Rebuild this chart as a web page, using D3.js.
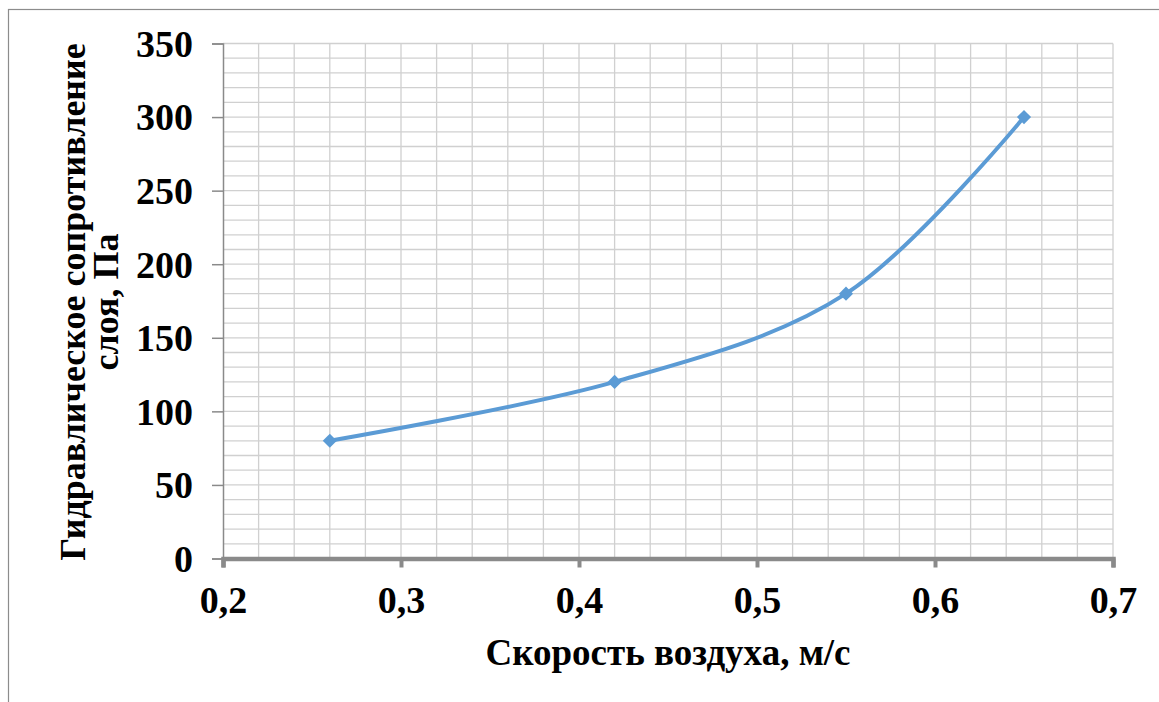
<!DOCTYPE html>
<html>
<head>
<meta charset="utf-8">
<script src="https://cdn.jsdelivr.net/npm/d3@7"></script>
<style>
  html, body { margin: 0; padding: 0; background: #fff; }
  svg { display: block; }
  text { font-family: "Liberation Serif", serif; font-weight: bold; fill: #000; }
</style>
</head>
<body>
<svg id="chart" width="1159" height="702"></svg>
<script>
// Air velocity (m/s) and bed hydraulic resistance (Pa)
const velocity = [0.26, 0.42, 0.55, 0.65];
const resistance = [80, 120, 180, 300];
const xTicks = [0.2, 0.3, 0.4, 0.5, 0.6, 0.7];
const yTicks = [0, 50, 100, 150, 200, 250, 300, 350];
const xTitle = "Скорость воздуха, м/с";
const yTitleLines = ["Гидравлическое сопротивление", "слоя, Па"];

(function draw() {
  const svg = d3.select("#chart");
  const W = 1159, H = 702;
  const serif = "'Liberation Serif', serif";

  // outer frame of the chart
  svg.append("rect")
    .attr("x", 8.5).attr("y", 9.5)
    .attr("width", W + 10).attr("height", H + 10)
    .attr("fill", "none").attr("stroke", "#8c8c8c").attr("stroke-width", 1.2);

  const pLeft = 223, pRight = 1113, pTop = 43.5, pBottom = 558.5;
  const x = d3.scaleLinear().domain([0.2, 0.7]).range([pLeft, pRight]);
  const y = d3.scaleLinear().domain([0, 350]).range([pBottom, pTop]);

  const fmt = d => d3.format(".1f")(d).replace(".", ",");

  // minor + major gridlines
  const grid = svg.append("g").attr("stroke", "#d0d0d0").attr("stroke-width", 1.3);
  d3.range(11, 36).map(k => k * 0.02).forEach(v => {
    grid.append("line").attr("x1", x(v)).attr("x2", x(v)).attr("y1", pTop).attr("y2", pBottom);
  });
  d3.range(10, 351, 10).forEach(v => {
    grid.append("line").attr("x1", pLeft).attr("x2", pRight).attr("y1", y(v)).attr("y2", y(v));
  });

  // y axis
  const yAxis = svg.append("g")
    .attr("transform", `translate(${pLeft},0)`)
    .call(d3.axisLeft(y).tickValues(yTicks).tickSize(11).tickPadding(19).tickFormat(d3.format("d")));
  yAxis.select(".domain").attr("stroke", "#8a8a8a").attr("stroke-width", 1.5);
  yAxis.selectAll(".tick line").attr("stroke", "#8a8a8a").attr("stroke-width", 1.5);
  yAxis.selectAll(".tick text")
    .style("font-family", serif).style("font-weight", "bold")
    .style("font-size", "38px").attr("fill", "#000").attr("dy", "0.34em");

  // x axis
  const xAxis = svg.append("g")
    .attr("transform", `translate(0,${pBottom})`)
    .call(d3.axisBottom(x).tickValues(xTicks).tickSize(9).tickPadding(19).tickFormat(fmt));
  xAxis.select(".domain").attr("stroke", "#8a8a8a").attr("stroke-width", 4.5);
  xAxis.selectAll(".tick line").attr("stroke", "#8a8a8a").attr("stroke-width", 4);
  xAxis.selectAll(".tick text")
    .style("font-family", serif).style("font-weight", "bold")
    .style("font-size", "38px").attr("fill", "#000");

  // smoothed series line
  const pts = velocity.map((v, i) => [v, resistance[i]]);
  const line = d3.line()
    .x(d => x(d[0])).y(d => y(d[1]))
    .curve(d3.curveCardinal.tension(0));
  svg.append("path").datum(pts)
    .attr("d", line)
    .attr("fill", "none").attr("stroke", "#5b9bd5").attr("stroke-width", 4);

  // diamond markers
  svg.selectAll(".pt").data(pts).join("path")
    .attr("class", "pt")
    .attr("d", d3.symbol().type(d3.symbolSquare).size(100))
    .attr("transform", d => `translate(${x(d[0])},${y(d[1])}) rotate(45)`)
    .attr("fill", "#5b9bd5");

  // axis titles
  svg.append("text")
    .attr("x", 668).attr("y", 665)
    .attr("text-anchor", "middle")
    .style("font-family", serif)
    .style("font-size", "37px")
    .text(xTitle);

  const yt = svg.append("text")
    .attr("transform", "translate(0,302) rotate(-90)")
    .attr("text-anchor", "middle")
    .style("font-family", serif)
    .style("font-size", "36px");
  yt.append("tspan").attr("x", 0).attr("y", 85).text(yTitleLines[0]);
  yt.append("tspan").attr("x", 0).attr("y", 118).text(yTitleLines[1]);
})();
</script>
</body>
</html>
